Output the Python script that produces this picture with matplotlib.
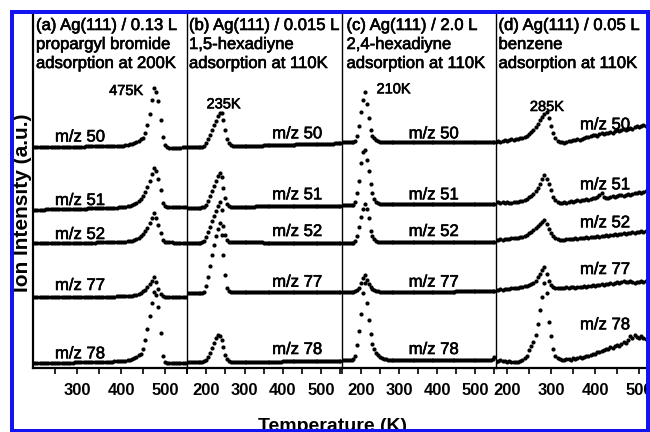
import numpy as np
import matplotlib
matplotlib.use("Agg")
import matplotlib.pyplot as plt
import matplotlib.patheffects as pe
from matplotlib.lines import Line2D

plt.rcParams["font.family"] = ["Liberation Sans", "DejaVu Sans"]

# ---------------- data ----------------
masses = ["m/z 50", "m/z 51", "m/z 52", "m/z 77", "m/z 78"]

# (a) propargyl bromide, 200-550 K, 5 K steps
temp_a = np.arange(200, 551, 5)
a_m50 = [0,0,0,0,0,0,0,0,0,0, 0,0,0,0,0,0,0,0,0,0, 0,0,0,0,1,1,1,1,1,1,
         1,1,1,1,1,1,1,1,1,1, 1,1,2,2,3,3,4,5,6,8, 9,14,22,33,47,59,55,46,27,10,
         2,0,-1,-1,-1,-1,-1,-1,0,0, 0]
a_m51 = [-1,-1,-1,-1,-1,-1,0,0,0,0, 0,0,0,0,0,0,0,0,0,0, 0,0,0,0,0,1,1,1,1,1,
         1,1,1,1,1,1,1,1,1,2, 2,2,2,3,3,4,5,6,8,10, 13,17,22,28,35,41,38,30,19,6,
         3,2,2,2,2,2,2,2,2,2, 2]
a_m52 = [0,0,0,0,0,0,0,0,0,0, 0,0,0,0,0,0,0,0,0,0, 0,0,0,0,0,0,0,0,0,1,
         1,1,1,1,1,1,1,1,1,1, 1,1,1,2,2,2,3,4,5,7, 9,12,15,20,25,30,25,18,10,3,
         1,1,1,1,0,0,0,0,0,0, 0]
a_m77 = [0,0,0,0,0,0,0,0,0,0, 0,0,0,0,0,0,0,0,0,0, 0,0,0,0,0,0,0,0,0,0,
         0,0,0,0,0,0,0,0,1,1, 1,1,1,1,1,1,2,2,3,4, 6,7,10,13,16,20,15,8,3,1,
         0,0,0,0,0,0,0,0,0,0, 0]
a_m78 = [0,0,0,0,0,0,0,0,0,0, 0,0,0,0,0,0,0,0,0,1, 1,1,1,1,1,1,1,1,1,1,
         1,1,1,1,1,1,1,2,2,2, 2,2,2,3,3,4,5,6,8,9, 14,23,34,47,60,71,68,56,30,7,
         1,0,0,0,0,0,0,0,0,0, 0]
offsets_a = [221, 159, 125, 71, 5]

# (b) 1,5-hexadiyne, 150-550 K
temp_b = np.arange(150, 551, 5)
b_m50 = [0,0,0,0,0,0,0,0,0,1, 4,8,12,17,22,26,31,34,34,27, 17,8,4,2,1,1,1,1,1,1,
         1,1,1,1,1,1,1,1,1,1, 2,2,2,2,2,2,2,2,2,2, 2,2,2,2,2,2,2,3,3,3,
         3,3,3,3,3,3,3,3,3,3, 3,3,3,3,3,3,3,4,4,4, 4]
b_m51 = [0,0,0,0,0,0,0,0,1,1, 3,7,12,17,22,27,32,35,31,20, 10,4,2,1,1,1,1,1,1,1,
         1,1,1,1,1,1,2,2,2,2, 2,2,2,2,2,2,2,2,2,2, 2,2,2,2,2,2,2,2,2,2,
         2,2,2,2,2,2,2,2,2,2, 2,2,2,2,2,2,2,2,2,2, 2]
b_m52 = [0,0,0,0,0,0,0,0,1,2, 6,11,16,22,27,32,37,41,33,17, 8,3,1,1,1,1,1,1,1,1,
         1,1,1,1,1,1,1,1,1,1, 0,0,0,0,0,0,0,0,0,0, 0,0,0,0,0,0,0,0,0,0,
         0,0,0,0,0,0,0,0,0,0, 0,0,0,0,0,0,0,0,0,0, 0]
b_m77 = [0,0,0,0,0,0,0,0,0,1, 7,16,27,38,48,57,64,70,58,38, 18,5,2,1,1,1,1,1,1,1,
         1,1,1,1,1,1,1,1,1,1, 1,1,1,1,1,1,1,1,1,1, 1,1,1,1,1,1,1,1,1,1,
         1,1,1,1,1,1,1,1,1,1, 1,1,1,1,1,1,1,1,1,1, 1]
b_m78 = [0,0,0,0,0,0,0,0,0,1, 2,5,9,14,19,24,27,26,22,15, 7,3,1,0,0,0,0,0,0,0,
         0,0,0,0,0,0,0,0,0,0, 0,0,0,0,0,0,0,0,0,0, 1,1,1,1,1,1,1,1,1,1,
         1,1,1,1,1,1,1,1,1,1, 1,1,1,1,1,1,1,1,1,1, 1]
offsets_b = [221, 160, 125, 75, 6]

# (c) 2,4-hexadiyne, 150-550 K
temp_c = np.arange(150, 551, 5)
c_m50 = [0,0,0,0,0,0,0,1,6,16, 30,42,50,38,24,12,6,4,2,1, 0,0,0,0,0,0,0,0,0,0,
         0,0,0,0,0,0,0,0,0,0, 0,0,0,0,0,0,0,0,0,0, 0,0,0,0,0,0,0,0,0,0,
         0,0,0,0,0,0,0,0,0,0, 0,0,0,0,0,0,0,0,0,0, 0]
c_m51 = [0,0,0,0,0,0,0,3,12,24, 42,53,55,45,34,21,12,6,3,2, 1,1,1,1,1,1,1,1,1,1,
         1,1,1,1,1,1,1,1,1,1, 1,1,1,1,1,1,1,1,1,1, 1,1,1,1,1,1,1,1,1,1,
         1,1,1,1,1,1,1,1,1,1, 1,1,1,1,1,1,1,1,1,1, 1]
c_m52 = [0,0,0,0,0,0,0,2,7,16, 26,34,39,34,25,12,7,4,2,1, 1,1,1,1,1,1,1,1,1,1,
         1,1,1,1,1,1,1,1,1,1, 1,1,1,1,1,1,1,1,1,1, 1,1,1,1,1,1,1,1,1,1,
         1,1,1,1,1,1,1,1,1,1, 1,1,1,1,1,1,1,1,1,1, 1]
c_m77 = [0,0,0,0,0,0,0,1,2,4, 9,14,17,12,8,5,3,2,1,1, 0,0,0,0,0,0,0,0,0,0,
         0,0,0,0,0,0,0,0,0,0, 0,0,0,0,0,0,0,0,0,0, 0,0,0,0,0,0,0,0,0,0,
         1,1,1,1,1,1,1,1,1,1, 1,1,1,1,1,1,1,1,1,1, 1]
c_m78 = [0,0,0,0,0,0,1,4,15,29, 46,67,77,57,40,26,16,11,7,5, 3,2,1,1,0,0,0,0,0,0,
         0,0,0,0,0,0,0,0,0,0, 0,0,0,0,0,0,0,0,0,0, 0,0,0,0,0,0,0,0,0,0,
         0,0,0,0,0,0,0,0,0,0, 0,0,0,0,0,0,0,0,0,1, 3]
offsets_c = [226, 163, 125, 76, 8]

# (d) benzene, 175-525 K
temp_d = np.arange(175, 526, 5)
d_m50 = [0,1,0,1,2,1,2,3,2,3, 3,4,4,5,6,8,10,12,15,18, 22,25,28,30,24,16,9,4,1,0,
         0,-1,0,1,1,2,2,3,2,3, 4,5,5,6,7,7,6,8,9,8, 9,9,10,9,11,12,11,12,13,12,
         13,14,13,15,16,15,16,17,16,17, 18]
d_m51 = [1,1,0,1,0,1,0,0,1,1, 1,2,2,3,4,6,7,9,12,15, 19,24,28,24,19,13,6,3,1,0,
         0,1,0,1,2,1,2,3,2,3, 3,4,3,4,5,5,6,8,10,6, 5,5,6,7,6,7,8,8,7,8,
         9,8,9,10,10,11,10,11,12,12, 12]
d_m52 = [0,0,1,0,1,1,1,2,2,2, 2,3,3,4,5,7,8,10,12,14, 16,18,20,16,11,7,4,2,1,0,
         0,0,1,1,1,1,2,1,2,2, 2,3,2,3,3,3,4,3,4,4, 5,4,5,5,6,5,6,6,7,6,
         7,7,8,7,8,8,9,8,9,9, 9]
d_m77 = [-1,-1,0,-1,0,0,0,1,1,1, 1,2,2,3,3,4,5,6,8,12, 15,19,22,15,8,4,2,1,1,1,
         1,1,2,1,2,2,1,2,2,2, 3,2,3,3,4,3,4,4,5,4, 5,5,6,5,6,7,6,7,8,7,
         7,8,7,6,7,7,8,7,8,7, 7]
d_m78 = [-2,-1,0,-1,-1,-2,-1,-2,-2,-2, -2,-1,0,2,4,10,14,18,25,36, 50,63,77,67,38,24,11,4,2,1,
         0,0,1,1,0,2,1,2,3,2, 3,4,4,5,6,6,8,8,9,10, 11,11,13,12,14,15,14,16,18,17,
         20,24,22,25,23,22,24,22,21,19, 18]
offsets_d = [226, 165, 128, 79, 8]

titles = [
    ["(a) Ag(111) / 0.13 L", "propargyl bromide", "adsorption at 200K"],
    ["(b) Ag(111) / 0.015 L", "1,5-hexadiyne", "adsorption at 110K"],
    ["(c) Ag(111) / 2.0 L", "2,4-hexadiyne", "adsorption at 110K"],
    ["(d) Ag(111) / 0.05 L", "benzene", "adsorption at 110K"],
]
peak_labels = ["475K", "235K", "210K", "285K"]

# ---------------- layout ----------------
W, H = 650, 432
fig = plt.figure(figsize=(W / 100, H / 100), dpi=100)

# slightly heavier strokes for the regular-weight annotations
heavy = [pe.withStroke(linewidth=0.45, foreground="black")]


def fx(px):
    return px / W


def fy(py):
    return 1 - py / H


AX_TOP, AX_BOT = 12, 368
panels = [
    dict(l=33, r=187, xlim=(200, 550), major=[300, 400, 500], minor=[250, 350, 450, 550],
         temp=temp_a, series=[a_m50, a_m51, a_m52, a_m77, a_m78], off=offsets_a,
         lab_x=250, lab_y=[226.5, 163, 129, 78, 9.7], peak_xy=(373, 273), title_x=36, lw_left=1.6),
    dict(l=187, r=342, xlim=(150, 554), major=[200, 300, 400, 500], minor=[150, 250, 350, 450, 550],
         temp=temp_b, series=[b_m50, b_m51, b_m52, b_m77, b_m78], off=offsets_b,
         lab_x=372, lab_y=[229.7, 168.7, 132, 81.3, 14], peak_xy=(201, 259.7), title_x=189, lw_left=1.0),
    dict(l=342, r=496, xlim=(150, 554), major=[200, 300, 400, 500], minor=[150, 250, 350, 450, 550],
         temp=temp_c, series=[c_m50, c_m51, c_m52, c_m77, c_m78], off=offsets_c,
         lab_x=325, lab_y=[229.7, 168.7, 132, 81.3, 14], peak_xy=(240.6, 274.7), title_x=346.5, lw_left=1.0),
    dict(l=496, r=650, xlim=(175, 525), major=[200, 300, 400, 500], minor=[250, 350, 450],
         temp=temp_d, series=[d_m50, d_m51, d_m52, d_m77, d_m78], off=offsets_d,
         lab_x=366, lab_y=[238.7, 178.7, 140.7, 94, 38.7], peak_xy=(252, 257), title_x=498.5, lw_left=1.0),
]

for i, p in enumerate(panels):
    ax = fig.add_axes([fx(p["l"]), fy(AX_BOT), fx(p["r"]) - fx(p["l"]), (AX_BOT - AX_TOP) / H])
    ax.patch.set_alpha(0)
    ax.set_xlim(*p["xlim"])
    ax.set_ylim(0, AX_BOT - AX_TOP)
    ax.set_yticks([])
    for s in ("top", "right"):
        ax.spines[s].set_visible(False)
    ax.spines["left"].set_linewidth(p["lw_left"])
    ax.spines["bottom"].set_linewidth(1.6)
    ax.set_xticks(p["major"], labels=[str(v) for v in p["major"]], fontsize=12, fontweight="bold")
    ax.set_xticks(p["minor"], minor=True)
    ax.tick_params(axis="x", which="both", direction="out", length=4, width=1.2, pad=7)

    for vals, off, name, ly in zip(p["series"], p["off"], masses, p["lab_y"]):
        ax.plot(p["temp"], off + np.asarray(vals, dtype=float), "o", ms=3.0, mew=0,
                color="black", clip_on=True)
        ax.text(p["lab_x"], ly, name, fontsize=12, va="baseline", ha="left",
                path_effects=heavy)

    ax.text(p["peak_xy"][0], p["peak_xy"][1], peak_labels[i], fontsize=10.5,
            va="baseline", ha="left", path_effects=heavy)

    for k, line in enumerate(titles[i]):
        fig.text(fx(p["title_x"]), fy(30 + 19 * k), line, fontsize=12,
                 va="baseline", ha="left", path_effects=heavy)

fig.text(fx(332.5), fy(431), "Temperature (K)", fontsize=14, fontweight="bold",
         ha="center", va="baseline")
fig.text(fx(28), fy(203), "Ion Intensity (a.u.)", fontsize=15, fontweight="bold",
         rotation=90, rotation_mode="anchor", ha="center", va="baseline")

# blue frame
blue = "#1414f2"
frame_lw = 4 * 72 / 100
for (x0, y0, x1, y1) in [(12, 11.5, 647.5, 11.5), (12, 11.5, 12, 432),
                         (647.5, 11.5, 647.5, 432), (12, 430.5, 647.5, 430.5)]:
    fig.add_artist(Line2D([fx(x0), fx(x1)], [fy(y0), fy(y1)], transform=fig.transFigure,
                          color=blue, lw=frame_lw, solid_capstyle="projecting", zorder=20))

fig.savefig("out.png", dpi=100)
